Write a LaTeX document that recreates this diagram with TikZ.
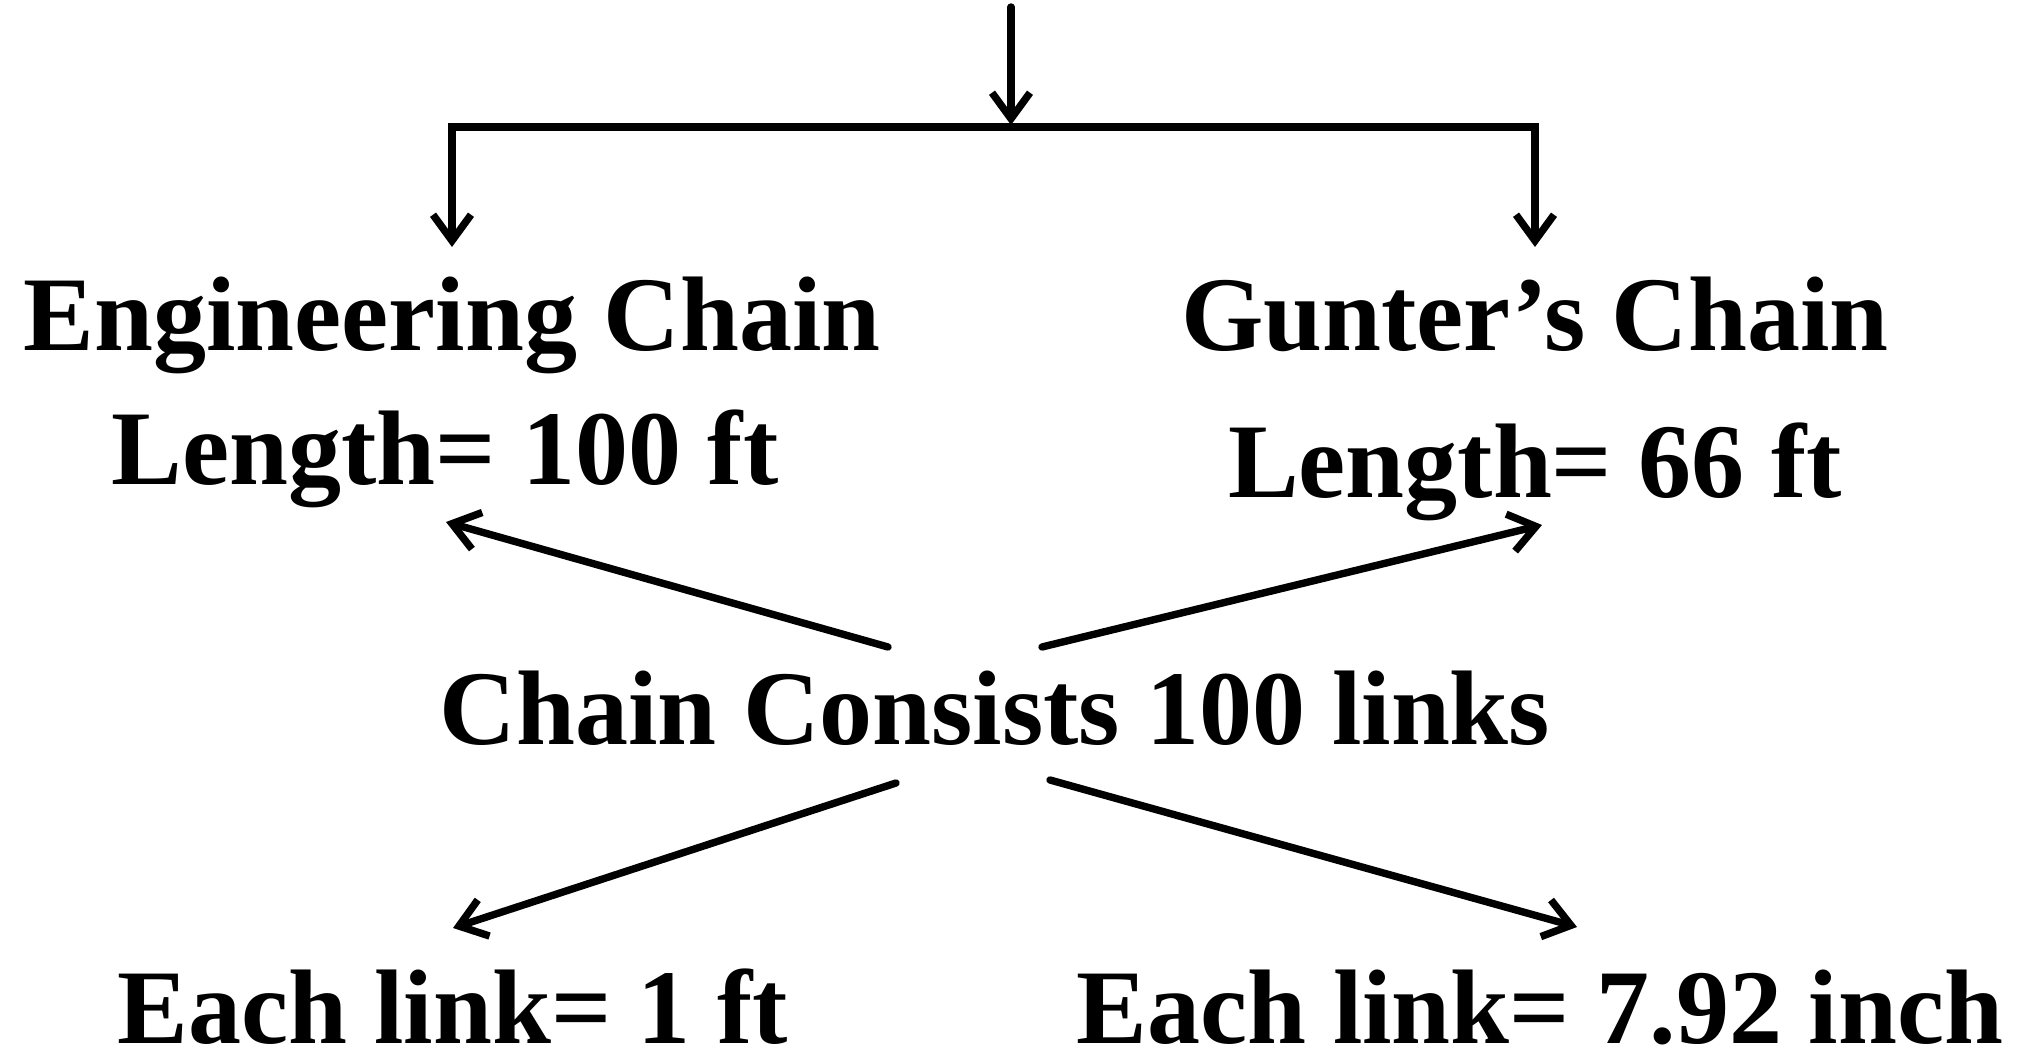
\documentclass[tikz,border=0pt]{standalone}
\usepackage{fontspec}
\setmainfont{Liberation Serif}
\usetikzlibrary{arrows.meta}

\begin{document}
\begin{tikzpicture}[x=0.5pt, y=-0.5pt, line width=3.7pt, line cap=round,
    >={Straight Barb[length=13pt, width=19pt]},
    lbl/.style={anchor=base, inner sep=0pt, font=\fontsize{53}{60}\selectfont\bfseries}]
    \useasboundingbox (0,0) rectangle (2020,1047);

    % The two kinds of chain
    \node[lbl] (eng) at (452,351) {Engineering Chain};
    \node[lbl] (gun) at (1535,351) {Gunter’s Chain};
    \node[lbl] (englen) at (445,485) {Length= 100 ft};
    \node[lbl] (gunlen) at (1535,498) {Length= 66 ft};

    % Common fact in the middle
    \node[lbl] (links) at (995,745) {Chain Consists 100 links};

    % Size of one link
    \node[lbl] (englink) at (453,1043) {Each link= 1 ft};
    \node[lbl] (gunlink) at (1540,1043) {Each link= 7.92 inch};

    % Branching from the top
    \coordinate (src) at (1011,7);
    \coordinate (split) at (1011,125);
    \coordinate (engtip) at (452,247);
    \coordinate (guntip) at (1535,247);
    \draw[->] (src) -- (split);
    \draw[<->] (engtip) -- (452,127) -- (1535,127) -- (guntip);

    % Arrows out of the middle text
    \coordinate (ul) at (888,647);
    \coordinate (ur) at (1042,647);
    \coordinate (ll) at (896,783);
    \coordinate (lr) at (1050,780);
    \draw[->] (ul) -- (446,522);
    \draw[->] (ur) -- (1542,525);
    \draw[->] (ll) -- (453,928);
    \draw[->] (lr) -- (1577,927);
\end{tikzpicture}
\end{document}
